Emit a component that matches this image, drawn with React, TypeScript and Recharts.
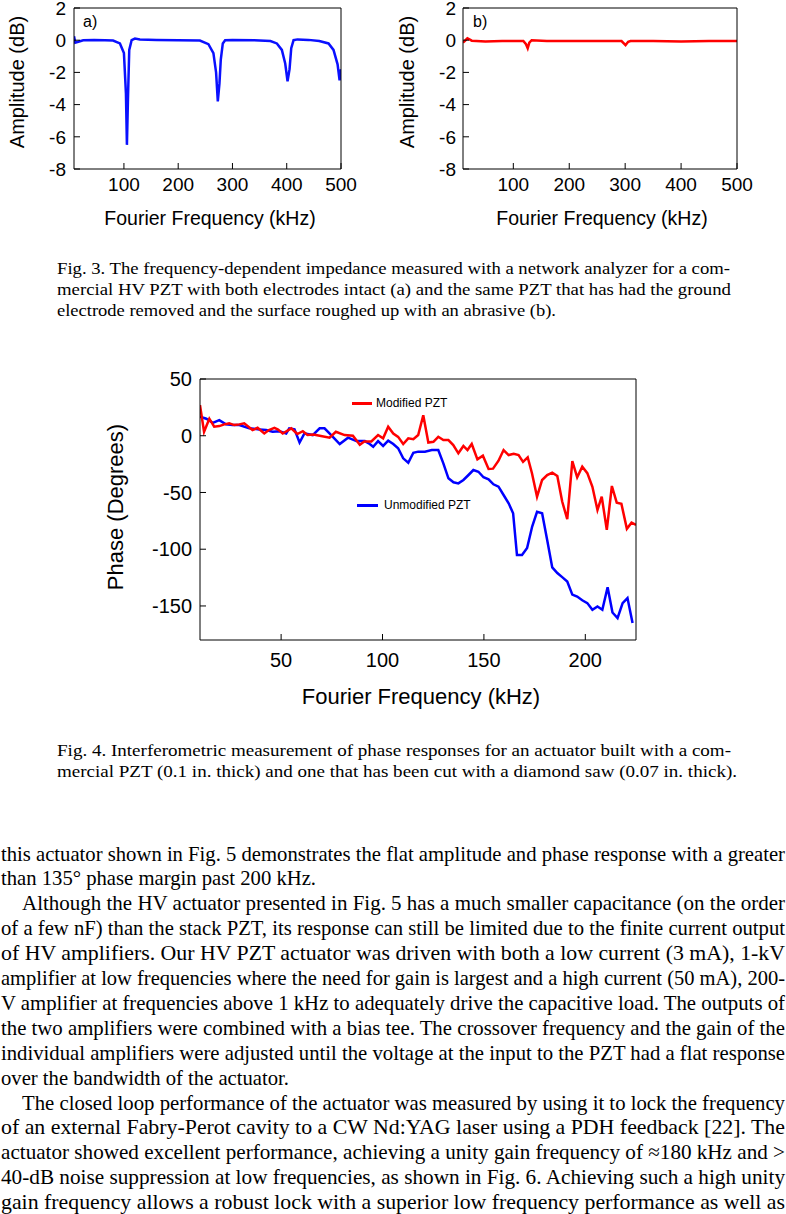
import React from "react";
import { LineChart, Line, XAxis, YAxis } from "recharts";

// Fig. 3 (a): commercial HV PZT, both electrodes intact
const freqA = [8, 10.4, 16, 25, 45, 65, 80, 92.6, 100, 103.7, 105.5, 107.4, 109.8, 114.2, 120.3, 129.5, 160, 200, 240, 255.7, 264.9, 269.8, 273, 276, 278.5, 282.2, 286.5, 300, 340, 370, 381.8, 391, 397.2, 401.5, 405.2, 408.3, 412.6, 420, 440, 460, 477, 486.2, 493.7, 497.4, 500];
const ampA = [0.25, -0.15, -0.1, 0, 0.02, 0, -0.02, -0.2, -0.8, -3.3, -6.5, -3.7, -0.6, 0, 0.1, 0.05, 0.02, 0, -0.02, -0.25, -0.8, -2, -3.8, -2.7, -1.2, -0.2, 0, 0.02, 0, -0.05, -0.2, -0.6, -1.45, -2.55, -1.8, -0.5, 0, 0.05, 0.02, -0.05, -0.2, -0.6, -1.5, -2.5, -1.8];

// Fig. 3 (b): ground electrode removed
const freqB = [10, 13, 17.9, 25.7, 50, 80, 100, 117.9, 122.7, 125.7, 128.6, 132.8, 160, 200, 250, 293.5, 300.7, 305.4, 309.6, 350, 400, 450, 500];
const ampB = [-0.15, -0.05, 0.12, -0.03, -0.08, -0.05, -0.05, -0.05, -0.25, -0.5, -0.15, 0, -0.05, -0.05, -0.05, -0.05, -0.3, -0.1, -0.05, -0.05, -0.08, -0.05, -0.05];

// Fig. 4: phase responses
const modFreq = [10, 12, 14.6, 17, 19.5, 22, 24.4, 26.9, 29.4, 31.8, 35.9, 38.4, 41.7, 44, 46.7, 48.5, 50.8, 55, 58, 60.7, 63, 66, 69, 73.9, 77, 81.3, 85.4, 88.8, 91, 94.5, 97.8, 100.3, 102.8, 105.3, 107.7, 110.2, 112.7, 115.2, 117.6, 120.1, 122.6, 125.1, 127.5, 130, 132.5, 134.9, 137.4, 139.9, 141.9, 144, 146.8, 149.5, 152.3, 154.5, 157.2, 159.7, 162.2, 164.7, 167.1, 169.3, 171.6, 173.7, 176.2, 178.7, 181.2, 183.7, 186.2, 188.6, 191.1, 193.6, 196, 198.5, 201, 203.5, 206, 208.1, 210.6, 213.1, 215.5, 217.8, 220.5, 222.8, 225];
const modPhase = [27, 3.5, 15, 8, 8.5, 10, 11, 9.4, 10, 11, 5, 7, 2, 5, 7, 5.5, 2, 6.5, 1.5, 4, 0.6, 1, 0, -1.7, 3.5, 0.6, 0, -8, -5, -5, 0.6, -2.3, 8, 2, -1, -7.3, -2.3, -3, 0.6, 18, -6, -5.3, -0.9, -3.8, -3.8, -8.2, -15.5, -9, -12.6, -7.3, -20.8, -17.6, -29.3, -29, -22, -12.6, -17, -16, -17, -23, -19, -33, -53.7, -39, -34.6, -32.6, -35.5, -58, -73.6, -22.3, -36.6, -27.3, -33, -45, -65.4, -53.7, -83, -44.3, -59, -60, -82, -76.6, -78.6];
const unmodFreq = [10, 13.1, 16.3, 19.5, 22.8, 26, 29.4, 34.3, 39.3, 42.6, 45.8, 49.2, 52.5, 54, 56.6, 59.1, 61.5, 65.6, 69, 71.4, 74.7, 78.9, 83, 87.1, 91.3, 93.7, 95.4, 97.8, 100.3, 102.8, 105.3, 107.7, 110.2, 112.7, 115.2, 117.6, 120.9, 124.3, 127.5, 130, 132.5, 135, 137.4, 139.9, 142.4, 144.8, 147.3, 149.8, 152.3, 154.7, 157.2, 159.7, 162.2, 164.4, 166.3, 168.8, 171.3, 173.8, 176.2, 178.7, 181.2, 183.7, 186.2, 188.6, 191.1, 193.6, 196, 198.5, 201, 203.5, 206, 208.4, 211, 213.4, 215.9, 218.4, 220.8, 223.3];
const unmodPhase = [16.7, 15, 11.4, 13.8, 10, 9.5, 9.4, 6.5, 5.6, 5, 3.5, 4, 2, 6.5, 5.6, -6, 2, 0.6, 6.5, 6.5, 0.6, -7.3, -1.7, -4.7, -4.7, -7.3, -9.7, -4.7, -9, -4.4, -7.3, -11, -19.9, -23.8, -15, -14, -14, -12.6, -12.6, -24.3, -37.5, -41, -42, -39, -34.6, -30.2, -31.7, -36.6, -38.4, -42.8, -44.9, -52.2, -59.5, -68.3, -105, -105, -99, -80, -67, -68.3, -91.8, -116, -121, -124.6, -128.5, -140, -141.7, -145, -147.5, -153.4, -150.5, -153.4, -133.5, -155.8, -160.7, -147.5, -143, -165];

const fig3XTicks = [100, 200, 300, 400, 500];
const fig3YTicks = [2, 0, -2, -4, -6, -8];
const fig4XTicks = [50, 100, 150, 200];
const fig4YTicks = [50, 0, -50, -100, -150];

const caption3 = [
  "Fig. 3. The frequency-dependent impedance measured with a network analyzer for a com-",
  "mercial HV PZT with both electrodes intact (a) and the same PZT that has had the ground",
  "electrode removed and the surface roughed up with an abrasive (b).",
];
const caption4 = [
  "Fig. 4. Interferometric measurement of phase responses for an actuator built with a com-",
  "mercial PZT (0.1 in. thick) and one that has been cut with a diamond saw (0.07 in. thick).",
];
const bodyLines = [
  "this actuator shown in Fig. 5 demonstrates the flat amplitude and phase response with a greater",
  "than 135° phase margin past 200 kHz.",
  "Although the HV actuator presented in Fig. 5 has a much smaller capacitance (on the order",
  "of a few nF) than the stack PZT, its response can still be limited due to the finite current output",
  "of HV amplifiers. Our HV PZT actuator was driven with both a low current (3 mA), 1-kV",
  "amplifier at low frequencies where the need for gain is largest and a high current (50 mA), 200-",
  "V amplifier at frequencies above 1 kHz to adequately drive the capacitive load. The outputs of",
  "the two amplifiers were combined with a bias tee. The crossover frequency and the gain of the",
  "individual amplifiers were adjusted until the voltage at the input to the PZT had a flat response",
  "over the bandwidth of the actuator.",
  "The closed loop performance of the actuator was measured by using it to lock the frequency",
  "of an external Fabry-Perot cavity to a CW Nd:YAG laser using a PDH feedback [22]. The",
  "actuator showed excellent performance, achieving a unity gain frequency of ≈180 kHz and >",
  "40-dB noise suppression at low frequencies, as shown in Fig. 6. Achieving such a high unity",
  "gain frequency allows a robust lock with a superior low frequency performance as well as",
];

const SANS = "'Liberation Sans', Arial, Helvetica, sans-serif";
const SERIF = "'Liberation Serif', 'Times New Roman', serif";

const tickStyle = (size: number) => ({ fontSize: size, fill: "#000", fontFamily: SANS });

function hTitle(cx: number, y: number, size: number, text: string) {
  return () => (
    <text x={cx} y={y} textAnchor="middle" fontSize={size} fontFamily={SANS} fill="#000">
      {text}
    </text>
  );
}

function vTitle(cx: number, cy: number, size: number, text: string) {
  return () => (
    <text
      transform={`translate(${cx},${cy}) rotate(-90)`}
      textAnchor="middle"
      dominantBaseline="central"
      fontSize={size}
      fontFamily={SANS}
      fill="#000"
    >
      {text}
    </text>
  );
}

interface PanelProps {
  left: number;
  freq: number[];
  amp: number[];
  color: string;
  tag: string;
  yw: number;
  right: number;
  xMin: number;
  xTitleX: number;
  yGap: number;
}

function AmpPanel({ left, freq, amp, color, tag, yw, right, xMin, xTitleX, yGap }: PanelProps) {
  const data = freq.map((f, i) => ({ f, v: amp[i] }));
  return (
    <div style={{ position: "absolute", left, top: 0, width: 370, height: 240 }}>
      <LineChart width={370} height={240} data={data} margin={{ top: 7, right, bottom: 0, left: 0 }}>
        <XAxis
          type="number"
          dataKey="f"
          domain={[xMin, 500]}
          ticks={fig3XTicks}
          interval={0}
          allowDataOverflow
          height={71}
          tickSize={-6}
          tickMargin={15}
          tick={tickStyle(19)}
          stroke="#000"
          label={hTitle(xTitleX, 225, 19.5, "Fourier Frequency (kHz)")}
        />
        <XAxis
          xAxisId="t"
          orientation="top"
          type="number"
          domain={[xMin, 500]}
          ticks={fig3XTicks}
          interval={0}
          allowDataOverflow
          height={1}
          tickSize={-6}
          tick={false}
          stroke="#000"
        />
        <YAxis
          type="number"
          domain={[-8, 2]}
          ticks={fig3YTicks}
          interval={0}
          allowDataOverflow
          width={yw}
          tickSize={-6}
          tickMargin={yGap}
          tick={tickStyle(19)}
          stroke="#000"
          label={vTitle(17, 82, 20, "Amplitude (dB)")}
        />
        <YAxis
          yAxisId="r"
          orientation="right"
          type="number"
          domain={[-8, 2]}
          ticks={fig3YTicks}
          interval={0}
          allowDataOverflow
          width={1}
          tickSize={-6}
          tick={false}
          stroke="#000"
        />
        <Line
          type="linear"
          dataKey="v"
          stroke={color}
          strokeWidth={2.5}
          dot={false}
          isAnimationActive={false}
        />
      </LineChart>
      <div style={{ position: "absolute", left: 83, top: 13, fontSize: 16, fontFamily: SANS }}>{tag}</div>
    </div>
  );
}

function PhaseChart() {
  const modData = modFreq.map((f, i) => ({ f, v: modPhase[i] }));
  const unmodData = unmodFreq.map((f, i) => ({ f, v: unmodPhase[i] }));
  return (
    <div style={{ position: "absolute", left: 100, top: 370, width: 560, height: 340 }}>
      <LineChart width={560} height={340} margin={{ top: 8, right: 23, bottom: 0, left: 0 }}>
        <XAxis
          type="number"
          dataKey="f"
          domain={[10, 225]}
          ticks={fig4XTicks}
          interval={0}
          allowDataOverflow
          height={70}
          tickSize={-6}
          tickMargin={19}
          tick={tickStyle(20)}
          stroke="#000"
          label={hTitle(321, 334, 22, "Fourier Frequency (kHz)")}
        />
        <XAxis
          xAxisId="t"
          orientation="top"
          type="number"
          domain={[10, 225]}
          ticks={fig4XTicks}
          interval={0}
          allowDataOverflow
          height={1}
          tickSize={-6}
          tick={false}
          stroke="#000"
        />
        <YAxis
          type="number"
          domain={[-180, 50]}
          ticks={fig4YTicks}
          interval={0}
          allowDataOverflow
          width={100}
          tickSize={-6}
          tickMargin={14}
          tick={tickStyle(20)}
          stroke="#000"
          label={vTitle(15, 137, 22, "Phase (Degrees)")}
        />
        <YAxis
          yAxisId="r"
          orientation="right"
          type="number"
          domain={[-180, 50]}
          ticks={fig4YTicks}
          interval={0}
          allowDataOverflow
          width={1}
          tickSize={-6}
          tick={false}
          stroke="#000"
        />
        <Line
          data={unmodData}
          type="linear"
          dataKey="v"
          name="Unmodified PZT"
          stroke="#0000ff"
          strokeWidth={2.5}
          dot={false}
          isAnimationActive={false}
        />
        <Line
          data={modData}
          type="linear"
          dataKey="v"
          name="Modified PZT"
          stroke="#ff0000"
          strokeWidth={2.5}
          dot={false}
          isAnimationActive={false}
        />
      </LineChart>
      {/* in-plot legend */}
      <div style={{ position: "absolute", left: 252, top: 31.5, width: 20, height: 3, background: "#ff0000" }} />
      <div style={{ position: "absolute", left: 276, top: 26, fontSize: 12, lineHeight: "14px", fontFamily: SANS }}>
        Modified PZT
      </div>
      <div style={{ position: "absolute", left: 257, top: 133.5, width: 21, height: 3, background: "#0000ff" }} />
      <div style={{ position: "absolute", left: 284, top: 128, fontSize: 12, lineHeight: "14px", fontFamily: SANS }}>
        Unmodified PZT
      </div>
    </div>
  );
}

function TextLine({ x, y, w, size, text }: { x: number; y: number; w: number; size: number; text: string }) {
  return (
    <text x={x} y={y} textLength={w} lengthAdjust="spacingAndGlyphs" fontSize={size} fontFamily={SERIF} fill="#000">
      {text}
    </text>
  );
}

function PageText() {
  const cap3W = [673, 674, 499];
  const cap4W = [674, 680];
  return (
    <svg width={786} height={1214} style={{ position: "absolute", left: 0, top: 0 }}>
      {caption3.map((t, i) => (
        <TextLine key={"c3" + i} x={57} y={273.5 + i * 21} w={cap3W[i]} size={17} text={t} />
      ))}
      {caption4.map((t, i) => (
        <TextLine key={"c4" + i} x={57} y={755.5 + i * 21} w={cap4W[i]} size={17} text={t} />
      ))}
      {bodyLines.map((t, i) => {
        const indent = i === 2 || i === 10 ? 22 : 1;
        const w = i === 1 ? 315 : i === 9 ? 288 : 785 - indent;
        return <TextLine key={"b" + i} x={indent} y={860.5 + i * 24.9} w={w} size={21} text={t} />;
      })}
    </svg>
  );
}

export default function App() {
  return (
    <div style={{ position: "absolute", left: 0, top: 0, width: 786, height: 1214, background: "#fff", overflow: "hidden" }}>
      <PageText />
      <AmpPanel left={0} freq={freqA} amp={ampA} color="#0a10ff" tag="a)" yw={74} right={28} xMin={8} xTitleX={210} yGap={14} />
      <AmpPanel left={390} freq={freqB} amp={ampB} color="#ff0000" tag="b)" yw={73} right={22} xMin={10} xTitleX={212} yGap={13} />
      <PhaseChart />
    </div>
  );
}
